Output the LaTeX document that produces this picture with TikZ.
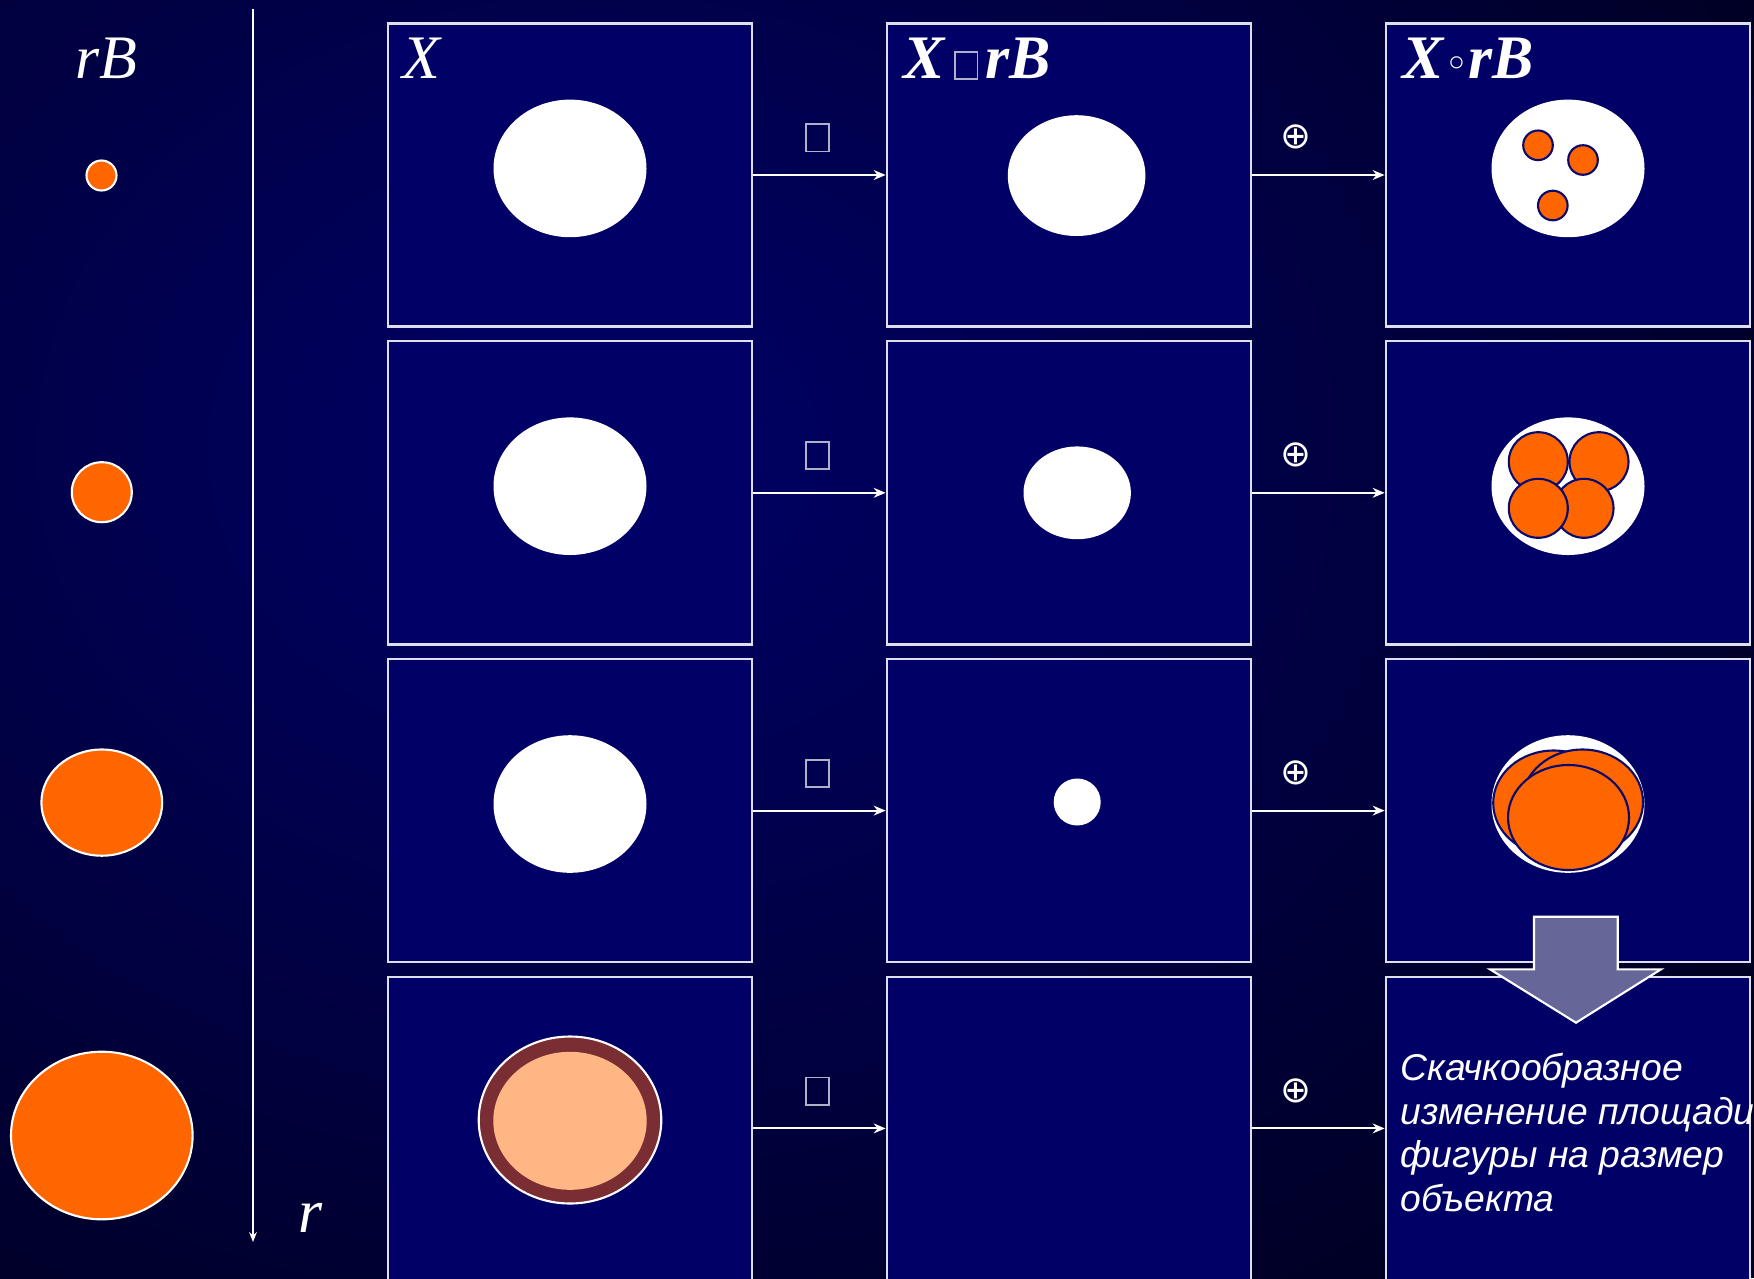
\documentclass[tikz,border=0pt]{standalone}
\usepackage{fontspec}
\setmainfont{Liberation Serif}
\newfontfamily\notefont{Liberation Sans}
\newfontfamily\symfont{DejaVu Sans}
\usetikzlibrary{arrows.meta}
\definecolor{navy}{RGB}{0,0,102}
\definecolor{bglight}{RGB}{0,0,104}
\definecolor{bgdark}{RGB}{0,0,36}
\definecolor{rim}{RGB}{222,222,236}
\definecolor{boxgray}{RGB}{176,176,200}
\definecolor{ballorange}{RGB}{255,102,0}
\definecolor{ballrim}{RGB}{10,10,110}
\definecolor{ringbrown}{RGB}{122,46,51}
\definecolor{paleorange}{RGB}{255,182,133}
\definecolor{arrowgray}{RGB}{102,102,153}
\newcommand\missingglyph{%
  {\color{boxgray}\setlength\fboxsep{0pt}\setlength\fboxrule{0.5pt}%
  \fbox{\rule{0pt}{7.25pt}\hspace{6pt}}}%
}

\begin{document}
\begin{tikzpicture}[
  x=0.01cm, y=-0.01cm,
  flowtip/.tip={Stealth[length=3.4pt,width=2.8pt]},
  panel/.style={
    draw=rim,
    line width=0.7pt,
    fill=navy,
    minimum width=3.64cm,
    minimum height=3.03cm,
    inner sep=0pt
  },
  flow/.style={-flowtip, white, line width=0.6pt},
  raxis/.style={-{Stealth[length=2.8pt,width=2.2pt]}, white, line width=0.6pt},
  rbdisk/.style={fill=ballorange, draw=white, line width=0.6pt},
  grain/.style={fill=ballorange, draw=ballrim, line width=0.6pt},
  blob/.style={fill=white},
  heading/.style={
    anchor=base west,
    inner sep=0pt,
    text=white,
    font=\fontsize{17.6}{20}\selectfont\itshape
  },
  strongheading/.style={
    heading,
    font=\fontsize{17.6}{20}\selectfont\bfseries\itshape
  }
]
  \useasboundingbox (0,0) rectangle (1754,1278);
  % background
  \fill[bgdark] (0,0) rectangle (1754,1278);
  \begin{scope}
    \clip (0,0) rectangle (1754,1278);
    \shade[inner color=bglight, outer color=bgdark] (600,450) ellipse (1300 and 1050);
  \end{scope}

  % structuring elements rB
  \node[heading] (rb-label) at (75,78) {rB};
  \fill[rbdisk] (101.5,175.5) circle (15);
  \fill[rbdisk] (101.8,492.2) circle (30);
  \fill[rbdisk] (101.8,802.6) ellipse (60.4 and 53.1);
  \fill[rbdisk] (101.8,1135.5) ellipse (90.8 and 83.8);

  \coordinate (axis-top) at (253,9);
  \coordinate (axis-end) at (253,1242);
  \draw[raxis] (axis-top) -- (axis-end);
  \node[heading] (r-label) at (298,1232) {r};

  % panels
  \foreach \r [evaluate=\r as \y using 175+317.8*(\r-1)] in {1,...,4}{
    \node[panel] (X-\r) at (570,\y) {};
    \node[panel] (Er-\r) at (1069,\y) {};
    \node[panel] (Op-\r) at (1568,\y) {};
  }

  \node[heading] (x-label) at (402,78) {X};
  \node[strongheading] (er-label) at (903,78) {X\kern2.5pt\missingglyph\kern2pt rB};
  \node[strongheading] (op-label) at (1402,78)
    {X{\symfont\mdseries\upshape\fontsize{12}{12}\selectfont ◦}rB};

  % X and its opening
  \foreach \d in {0,317.8,635.6}{
    \fill[blob] (570,168.4+\d) ellipse (76.5 and 68.8);
    \fill[blob] (1568,168.4+\d) ellipse (76.5 and 68.8);
  }
  \fill[ringbrown, draw=white, line width=0.6pt] (570,1120) ellipse (91.3 and 83.5);
  \fill[paleorange] (570,1120.8) ellipse (76.7 and 69);

  % eroded X
  \fill[blob] (1076.6,175.6) ellipse (68.8 and 60.4);
  \fill[blob] (1077.2,492.8) ellipse (53.7 and 46.4);
  \fill[blob] (1077.2,802) circle (23.5);

  % dilated back
  \foreach \p in {(1538,145.3),(1583,160),(1552.8,205.5)}
    \draw[grain] \p circle (14.8);
  \foreach \p in {(1538.3,461.7),(1599,461.7),(1584,508.3),(1538.3,508.3)}
    \draw[grain] \p circle (29.5);
  \foreach \p in {(1553.7,803),(1582.5,802),(1568.5,817.5)}
    \draw[grain] \p ellipse (60.5 and 52.5);

  % operations
  \foreach \r [evaluate=\r as \d using 317.8*(\r-1)] in {1,...,4}{
    \draw[flow] (X-\r) -- (Er-\r);
    \draw[flow] (Er-\r) -- (Op-\r);
    \node[inner sep=0pt] (ero-\r) at (817.5,137.8+\d) {\missingglyph};
    \node[inner sep=0pt, text=white, font=\symfont\fontsize{10.5}{10.5}\selectfont]
      (dil-\r) at (1296,137+\d) {⊕};
  }

  \draw[fill=arrowgray, draw=white, line width=0.6pt]
    (1534,916.7) -- (1617.7,916.7) -- (1617.7,969.3) -- (1661,969.3)
    -- (1576,1022.7) -- (1490,969.3) -- (1534,969.3) -- cycle;

  \node[anchor=north west, inner sep=0pt, align=left, text=white,
    font=\notefont\itshape\fontsize{10.6}{12.5}\selectfont]
    (note) at (1400,1052) {Скачкообразное\\изменение площади\\фигуры на размер\\объекта};
\end{tikzpicture}
\end{document}
